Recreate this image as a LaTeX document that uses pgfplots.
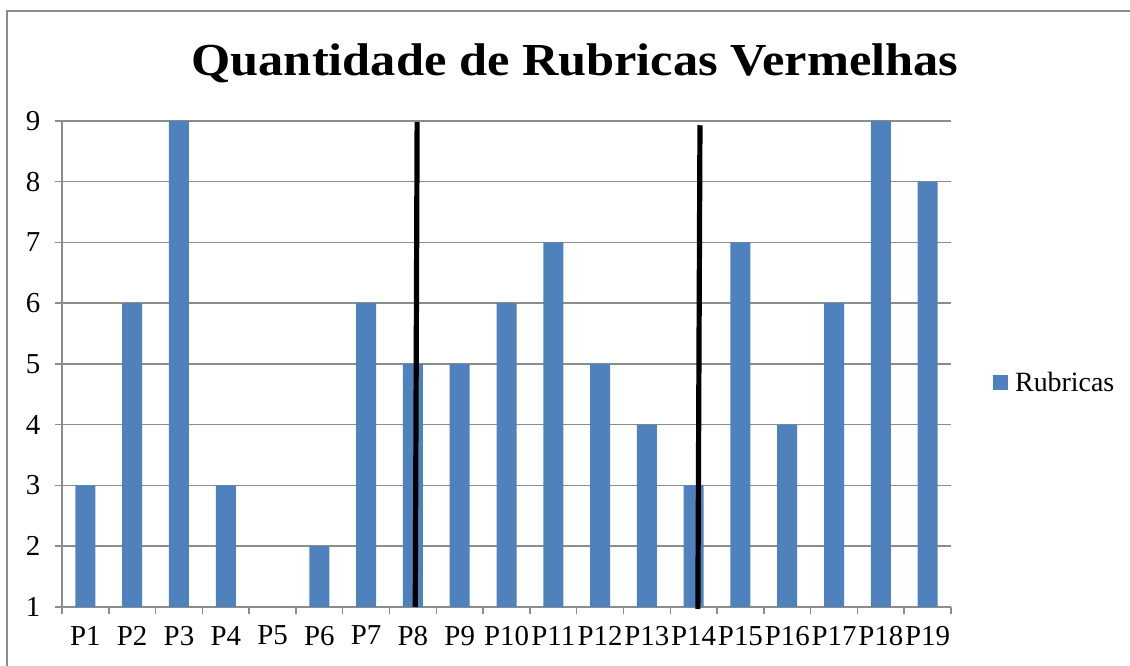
\documentclass[border=0pt]{standalone}
\usepackage{fontspec}
\setmainfont{Liberation Serif}
\newfontfamily\titlefont[FakeStretch=1.1]{Liberation Serif}
\usepackage{pgfplots}
\pgfplotsset{compat=1.18}
\definecolor{barblue}{HTML}{4F81BD}
\definecolor{gridgray}{HTML}{8C8C8C}
\begin{document}
\begin{tikzpicture}
\useasboundingbox (0,0) rectangle (565bp,333bp);
\draw[gridgray, line width=0.75bp] (3.5bp,-1bp) -- (3.5bp,327.5bp) -- (566bp,327.5bp);
\node[font=\titlefont\fontsize{23}{27}\selectfont\bfseries] at (287.5bp,301.5bp) {Quantidade de Rubricas Vermelhas};
\begin{axis}[
  at={(31bp,29.5bp)}, anchor=south west,
  scale only axis, width=444.5bp, height=243bp,
  xmin=0.5, xmax=19.5, ymin=1, ymax=9,
  axis x line*=bottom, axis y line*=left,
  axis line style={-, gridgray, line width=0.75bp},
  xtick={1,...,19},
  xticklabels={P1,P2,P3,P4,P5,P6,P7,P8,P9,P10,P11,P12,P13,P14,P15,P16,P17,P18,P19},
  major x tick style={draw=none},
  minor xtick={0.5,1.5,...,19.5},
  minor tick length=3.5bp, major tick length=3.5bp,
  every tick/.style={gridgray, line width=0.75bp},
  minor x tick style={gridgray, line width=0.75bp},
  ytick={1,...,9},
  tick align=outside,
  ymajorgrids, grid style={gridgray, line width=0.75bp},
  tick label style={font=\fontsize{14.5}{16}\selectfont},
  xticklabel style={yshift=-2.5bp},
  yticklabel style={xshift=-3.8bp},
  /pgf/number format/assume math mode=true,
  legend style={at={(1.047,0.461)}, anchor=west, draw=none, fill=none,
    font=\fontsize{14}{16}\selectfont, inner sep=0pt},
  legend image code/.code={\fill[barblue] (0bp,-3.75bp) rectangle (7.5bp,3.75bp);},
  clip=false,
]
\addplot[ybar, bar width=10bp, fill=barblue, draw=none] coordinates {
 (1,3) (2,6) (3,9) (4,3) (5,1) (6,2) (7,6) (8,5) (9,5) (10,6)
 (11,7) (12,5) (13,4) (14,3) (15,7) (16,4) (17,6) (18,9) (19,8)
};
\addlegendentry{\hspace{1.5bp}Rubricas}
\addplot[black, line width=2.6bp, forget plot] coordinates {(8.09,8.98) (8.05,1.0)};
\addplot[black, line width=2.6bp, forget plot] coordinates {(14.135,8.93) (14.09,0.97)};
\end{axis}
\end{tikzpicture}
\end{document}
